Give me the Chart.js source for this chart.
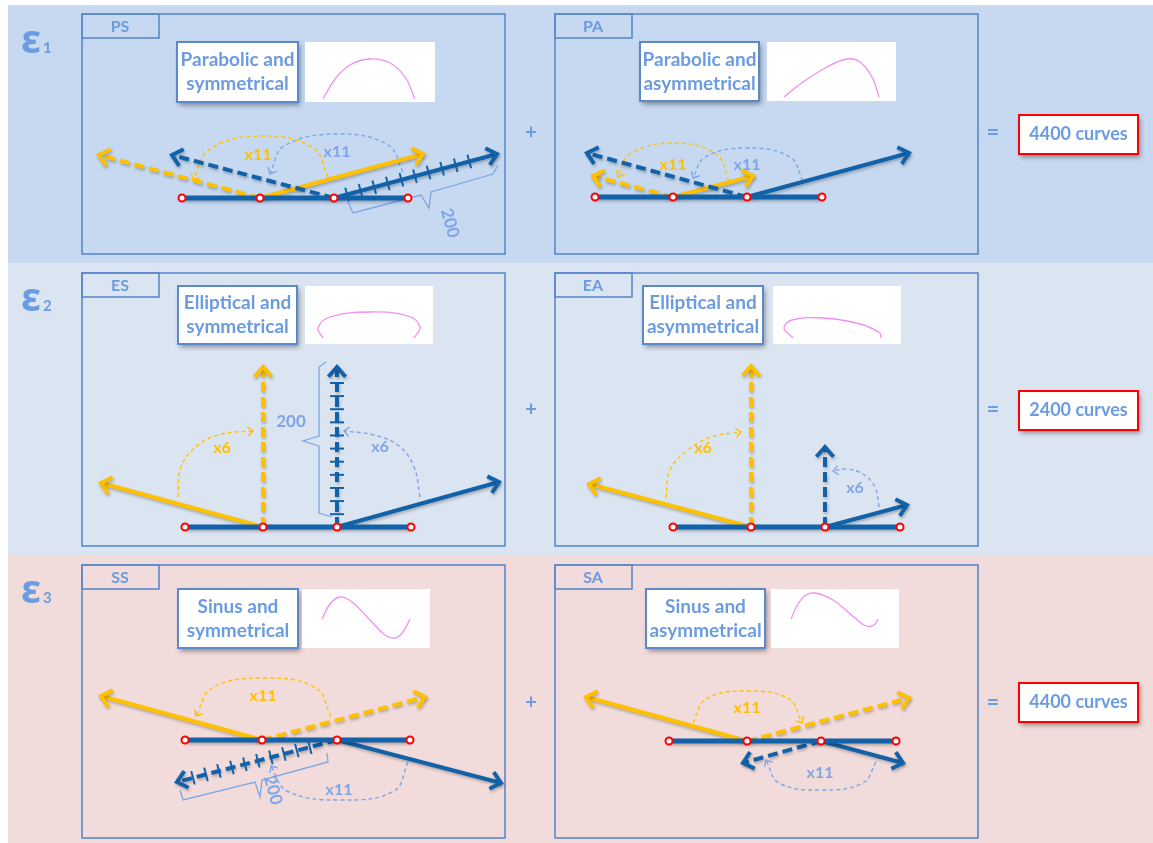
<!DOCTYPE html>
<html>
<head>
<meta charset="utf-8">
<script src="https://cdn.jsdelivr.net/npm/chart.js@4.4.1/dist/chart.umd.min.js"></script>
<style>
  html, body { margin: 0; padding: 0; background: #ffffff; }
  canvas { display: block; }
</style>
</head>
<body>
<canvas id="diagram" width="1153" height="843"></canvas>
<script>
// ---- labels and numbers ----
const rowSubscripts = ['1', '2', '3'];
const panelCodes = ['PS', 'PA', 'ES', 'EA', 'SS', 'SA'];
const panelTitles = [
    ['Parabolic and', 'symmetrical'], ['Parabolic and', 'asymmetrical'],
    ['Elliptical and', 'symmetrical'], ['Elliptical and', 'asymmetrical'],
    ['Sinus and', 'symmetrical'], ['Sinus and', 'asymmetrical']
];
const rowTotals = [4400, 2400, 4400];
const multipliers = [11, 11, 6, 6, 11, 11];
const braceValue = 200;

// ---- geometry, in chart units (one unit = one pixel of the picture) ----
// four nodes of the base segment of each panel
const baseNodes = [
    [[182, 198], [260, 198], [334, 198], [408, 198]],
    [[595, 197], [673, 197], [747, 197], [822, 197]],
    [[185, 527], [263, 527], [337, 527], [411, 527]],
    [[673, 527], [751, 527], [825, 527], [900, 527]],
    [[185, 740], [262, 740], [337, 740], [410, 740]],
    [[669, 741], [747, 741], [821, 741], [896, 741]]
];
// arrow tips: yellow arrows leave node 2, blue arrows leave node 3
const yellowSolidTips = [[423, 154], [753, 176], [101, 483], [589, 484], [101, 696], [586, 697]];
const yellowDashedTips = [[99, 155], [593, 176], [263, 367], [751, 366], [425, 697], [909, 698]];
const blueSolidTips = [[497, 154], [909, 153], [499, 482], [907, 505], [501, 783], [903, 763]];
const blueDashedTips = [[172, 155], [587, 153], [337, 367], [825, 447], [177, 782], [743, 763]];
// rotation arcs (last point carries the arrow head)
const yellowArcs = [
    [[328, 177], [313, 148], [262, 136], [210, 149], [193, 180]],
    [[729, 181], [716, 154], [673, 143], [630, 154], [618, 177]],
    [[178, 497], [181, 467], [198, 445], [222, 434], [253, 431]],
    [[666, 498], [670, 470], [688, 450], [711, 437], [741, 432]],
    [[331, 717], [316, 688], [264, 678], [212, 688], [196, 716]],
    [[693, 723], [706, 699], [747, 691], [789, 699], [802, 723]]
];
const blueArcs = [
    [[403, 172], [388, 145], [337, 134], [284, 146], [270, 174]],
    [[803, 181], [790, 157], [748, 148], [705, 157], [693, 178]],
    [[420, 497], [414, 467], [399, 446], [374, 435], [344, 431]],
    [[879, 507], [875, 487], [863, 474], [846, 469], [833, 471]],
    [[408, 762], [394, 791], [340, 800], [287, 791], [271, 766]],
    [[876, 762], [863, 783], [821, 790], [779, 783], [766, 760]]
];
// the "200 steps" braces (PS, ES, SS)
const braces = [
    [[348, 202], [353, 213], [421, 195], [429, 208], [431, 192], [493, 174], [498, 165]],
    [[326, 362], [319, 367], [319, 436], [303, 441], [319, 446], [319, 513], [332, 517]],
    [[180, 790], [183, 800], [255, 782], [260, 797], [262, 780], [328, 762], [327, 753]]
];
// ticked arrows: [panel, which arrow, tick count, first fraction, last fraction]
const tickedArrows = [
    [0, 'blueSolid', 10, 0.08, 0.83],
    [2, 'blueDashed', 11, 0.08, 0.9],
    [4, 'blueDashed', 10, 0.17, 0.9]
];
// small sketches of the curve types
const shapeCurves = [
    [[323, 99], [335, 79], [350, 65], [370, 59], [390, 63], [405, 77], [415, 99]],
    [[784, 97], [803, 82], [827, 67], [847, 59], [860, 62], [872, 77], [879, 97]],
    [[323, 338], [318, 328], [330, 317], [370, 312], [408, 316], [420, 327], [414, 338]],
    [[793, 338], [784, 328], [792, 320], [823, 318], [860, 324], [880, 333], [881, 338]],
    [[322, 619], [330, 604], [340, 597], [352, 602], [370, 620], [385, 635], [395, 638], [403, 632], [410, 619]],
    [[791, 619], [798, 604], [806, 595], [815, 593], [833, 600], [855, 618], [866, 626], [874, 625], [878, 619]]
];

// ---- layout ----
const bandRects = [[8, 5, 1153, 263], [8, 263, 1153, 555], [8, 555, 1153, 843]];
const bandColors = ['#c6d9f1', '#dbe5f1', '#f2dcdb'];
const panelRects = [
    [82, 14, 505, 254], [555, 14, 978, 254],
    [82, 273, 505, 546], [555, 273, 978, 546],
    [82, 565, 505, 838], [555, 565, 978, 838]
];
const titleRects = [
    [177, 42, 298, 102], [640, 42, 759, 101],
    [178, 286, 297, 344], [643, 286, 763, 344],
    [178, 589, 298, 648], [646, 589, 765, 648]
];
const sketchRects = [
    [305, 42, 435, 102], [767, 42, 896, 101],
    [305, 286, 433, 344], [773, 286, 901, 344],
    [302, 589, 430, 648], [771, 589, 899, 648]
];
const totalRects = [[1019, 115, 1138, 154], [1019, 391, 1138, 430], [1019, 683, 1138, 722]];
const epsilonBase = [53, 311, 603];
const operatorY = [133, 410, 703];
const yellowLabelAt = [[258, 155], [673, 165], [222, 448], [703, 448], [263, 696], [747, 708]];
const blueLabelAt = [[337, 152], [747, 165], [380, 447], [855, 488], [339, 790], [820, 773]];
const braceLabels = [[450, 223, 75], [291, 422, 0], [273, 790, 75]];

const LINE_BLUE = '#1262aa';
const GOLD = '#ffc000';
const ARC_BLUE = '#7fa5e6';
const TEXT_BLUE = '#6b9be0';
const FRAME = '#5b89cb';
const PINK = '#f28ef2';
const FONT = 'Lato, "Open Sans", sans-serif';

const toXY = pts => pts.map(p => ({ x: p[0], y: p[1] }));

const datasets = [];
function addLine(points, color, width, dash, order, extra) {
    const ds = Object.assign({
        data: toXY(points),
        showLine: true,
        borderColor: color,
        borderWidth: width,
        borderDash: dash,
        pointRadius: 0,
        tension: 0,
        fill: false,
        order: order
    }, extra || {});
    datasets.push(ds);
    return ds;
}

const arrowIndex = {};
panelCodes.forEach((code, i) => {
    const n = baseNodes[i];
    addLine([n[0], n[3]], LINE_BLUE, 5, [], 5, { shadow: true });
    arrowIndex[i + 'yellowSolid'] = addLine([n[1], yellowSolidTips[i]], GOLD, 4, [], 7, { head: 13, shadow: true });
    arrowIndex[i + 'yellowDashed'] = addLine([n[1], yellowDashedTips[i]], GOLD, 4, [10, 5], 8, { head: 13, shadow: true });
    arrowIndex[i + 'blueSolid'] = addLine([n[2], blueSolidTips[i]], LINE_BLUE, 4, [], 6, { head: 13, shadow: true });
    arrowIndex[i + 'blueDashed'] = addLine([n[2], blueDashedTips[i]], LINE_BLUE, 4, [10, 5], 6, { head: 13, shadow: true });
    addLine(yellowArcs[i], GOLD, 1.4, [4, 3], 9, { head: 7, tension: 0.4 });
    addLine(blueArcs[i], ARC_BLUE, 1.4, [4, 3], 9, { head: 7, tension: 0.4 });
    addLine(shapeCurves[i], PINK, 1.3, [], 9, { tension: 0.4 });
});
braces.forEach(b => addLine(b, ARC_BLUE, 1.3, [], 9));
tickedArrows.forEach(t => { arrowIndex[t[0] + t[1]].ticks = t.slice(2); });

datasets.push({
    data: toXY(baseNodes.flat()),
    showLine: false,
    pointRadius: 3.5,
    pointBorderWidth: 2,
    pointBackgroundColor: '#ffffff',
    pointBorderColor: '#ff0000',
    order: 0
});

function boxPath(chart, r) {
    const x0 = chart.scales.x.getPixelForValue(r[0]);
    const y0 = chart.scales.y.getPixelForValue(r[1]);
    const x1 = chart.scales.x.getPixelForValue(r[2]);
    const y1 = chart.scales.y.getPixelForValue(r[3]);
    return [x0, y0, x1 - x0, y1 - y0];
}

function drawBox(chart, r, fill, stroke, lw, shadow) {
    const ctx = chart.ctx;
    const b = boxPath(chart, r);
    ctx.save();
    if (shadow) {
        ctx.shadowColor = 'rgba(0,0,0,0.4)';
        ctx.shadowBlur = 5;
        ctx.shadowOffsetX = 2;
        ctx.shadowOffsetY = 3;
    }
    if (fill) { ctx.fillStyle = fill; ctx.fillRect(b[0], b[1], b[2], b[3]); }
    ctx.shadowColor = 'transparent';
    if (stroke) { ctx.strokeStyle = stroke; ctx.lineWidth = lw; ctx.strokeRect(b[0], b[1], b[2], b[3]); }
    ctx.restore();
}

function drawText(chart, str, x, y, font, color, align, base) {
    const ctx = chart.ctx;
    ctx.save();
    ctx.font = font;
    ctx.fillStyle = color;
    ctx.textAlign = align || 'center';
    ctx.textBaseline = base || 'middle';
    ctx.fillText(str, chart.scales.x.getPixelForValue(x), chart.scales.y.getPixelForValue(y));
    ctx.restore();
}

const backdrop = {
    id: 'backdrop',
    beforeDatasetsDraw(chart) {
        const ctx = chart.ctx;
        ctx.save();
        ctx.fillStyle = '#ffffff';
        ctx.fillRect(0, 0, chart.width, chart.height);
        ctx.restore();
        bandRects.forEach((r, i) => drawBox(chart, r, bandColors[i]));
        panelRects.forEach((r, i) => {
            drawBox(chart, r, null, FRAME, 1.6);
            drawBox(chart, [r[0], r[1], r[0] + 77, r[1] + 24], null, FRAME, 1.6);
            drawText(chart, panelCodes[i], r[0] + 38, r[1] + 12.5, 'bold 16px ' + FONT, TEXT_BLUE);
        });
        titleRects.forEach((r, i) => {
            drawBox(chart, r, '#ffffff', FRAME, 2, true);
            const cx = (r[0] + r[2]) / 2, cy = (r[1] + r[3]) / 2;
            drawText(chart, panelTitles[i][0], cx, cy - 12, 'bold 19px ' + FONT, TEXT_BLUE);
            drawText(chart, panelTitles[i][1], cx, cy + 12, 'bold 19px ' + FONT, TEXT_BLUE);
        });
        sketchRects.forEach(r => drawBox(chart, r, '#ffffff'));
        rowTotals.forEach((v, i) => {
            const r = totalRects[i];
            drawBox(chart, r, '#ffffff', '#ff0000', 2, true);
            drawText(chart, v + ' curves', (r[0] + r[2]) / 2, (r[1] + r[3]) / 2, 'bold 18px ' + FONT, TEXT_BLUE);
            drawText(chart, '+', 531, operatorY[i], 'bold 20px ' + FONT, TEXT_BLUE);
            drawText(chart, '=', 993, operatorY[i], 'bold 22px ' + FONT, TEXT_BLUE);
            drawText(chart, 'ε', 21, epsilonBase[i], 'bold 40px "Noto Sans", sans-serif', TEXT_BLUE, 'left', 'alphabetic');
            drawText(chart, rowSubscripts[i], 43, epsilonBase[i], 'bold 15px ' + FONT, TEXT_BLUE, 'left', 'alphabetic');
        });
    },
    beforeDatasetDraw(chart, args) {
        const ds = chart.data.datasets[args.index];
        if (ds.shadow) {
            const ctx = chart.ctx;
            ctx.save();
            ctx.shadowColor = 'rgba(0,0,0,0.25)';
            ctx.shadowBlur = 3;
            ctx.shadowOffsetX = 1;
            ctx.shadowOffsetY = 2;
        }
    },
    afterDatasetDraw(chart, args) {
        if (chart.data.datasets[args.index].shadow) chart.ctx.restore();
    }
};

const overlay = {
    id: 'overlay',
    afterDatasetsDraw(chart) {
        const ctx = chart.ctx;
        chart.data.datasets.forEach((ds, i) => {
            const pts = chart.getDatasetMeta(i).data;
            if (!ds.head && !ds.ticks) return;
            const a = pts[0], e = pts[pts.length - 1];
            ctx.save();
            ctx.strokeStyle = ds.borderColor;
            ctx.setLineDash([]);
            if (ds.ticks) {
                const [count, t0, t1] = ds.ticks;
                const dx = e.x - a.x, dy = e.y - a.y;
                const len = Math.hypot(dx, dy);
                const nx = -dy / len * 7, ny = dx / len * 7;
                ctx.lineWidth = 2;
                for (let k = 0; k < count; k++) {
                    const t = t0 + (t1 - t0) * k / (count - 1);
                    const px = a.x + dx * t, py = a.y + dy * t;
                    ctx.beginPath();
                    ctx.moveTo(px - nx, py - ny);
                    ctx.lineTo(px + nx, py + ny);
                    ctx.stroke();
                }
            }
            if (ds.head) {
                const prev = pts[pts.length - 2];
                let fx = prev.x, fy = prev.y;
                if (ds.tension && e.cp1x !== undefined) { fx = e.cp1x; fy = e.cp1y; }
                const ang = Math.atan2(e.y - fy, e.x - fx);
                const spread = 0.72;
                if (ds.shadow) {
                    ctx.shadowColor = 'rgba(0,0,0,0.25)';
                    ctx.shadowBlur = 3;
                    ctx.shadowOffsetX = 1;
                    ctx.shadowOffsetY = 2;
                }
                ctx.lineWidth = ds.borderWidth;
                ctx.lineJoin = 'miter';
                ctx.beginPath();
                ctx.moveTo(e.x - ds.head * Math.cos(ang - spread), e.y - ds.head * Math.sin(ang - spread));
                ctx.lineTo(e.x, e.y);
                ctx.lineTo(e.x - ds.head * Math.cos(ang + spread), e.y - ds.head * Math.sin(ang + spread));
                ctx.stroke();
            }
            ctx.restore();
        });
        multipliers.forEach((m, i) => {
            drawText(chart, 'x' + m, yellowLabelAt[i][0], yellowLabelAt[i][1], 'bold 16px ' + FONT, GOLD);
            drawText(chart, 'x' + m, blueLabelAt[i][0], blueLabelAt[i][1], 'bold 16px ' + FONT, ARC_BLUE);
        });
        braceLabels.forEach(l => {
            ctx.save();
            ctx.translate(chart.scales.x.getPixelForValue(l[0]), chart.scales.y.getPixelForValue(l[1]));
            ctx.rotate(l[2] * Math.PI / 180);
            ctx.font = 'bold 17px ' + FONT;
            ctx.fillStyle = ARC_BLUE;
            ctx.textAlign = 'center';
            ctx.textBaseline = 'middle';
            ctx.fillText(String(braceValue), 0, 0);
            ctx.restore();
        });
    }
};

new Chart(document.getElementById('diagram').getContext('2d'), {
    type: 'scatter',
    data: { datasets: datasets },
    options: {
        responsive: false,
        animation: false,
        events: [],
        layout: { padding: 0, autoPadding: false },
        scales: {
            x: { type: 'linear', min: 0, max: 1153, display: false },
            y: { type: 'linear', min: 0, max: 843, reverse: true, display: false }
        },
        plugins: { legend: { display: false }, tooltip: { enabled: false } }
    },
    plugins: [backdrop, overlay]
});
</script>
</body>
</html>
